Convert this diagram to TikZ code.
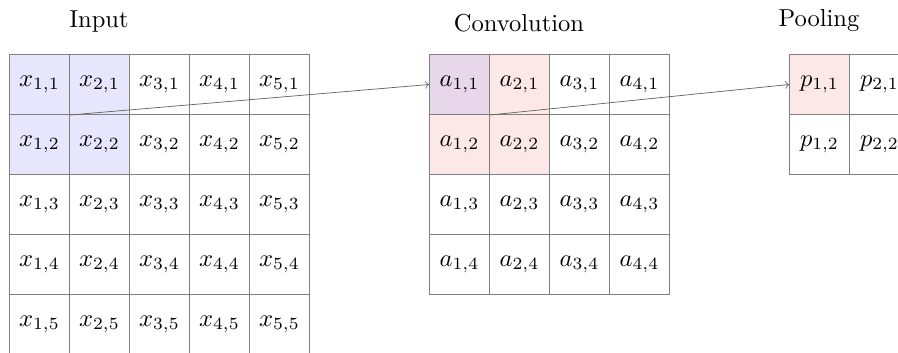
\documentclass[tikz,border=0pt]{standalone}
\usepackage{amsmath}
\usepackage{tikz}
\usetikzlibrary{backgrounds}
\definecolor{inFill}{RGB}{230,230,252}
\definecolor{cvFill}{RGB}{253,232,232}
\definecolor{mixFill}{RGB}{232,214,234}

\begin{document}
\begin{tikzpicture}[x=0.86cm, y=0.86cm,
  cell/.style={draw=gray, minimum size=0.86cm, inner sep=0pt, anchor=north west},
  ttl/.style={font=\normalsize, anchor=south},
  arr/.style={->, draw=black!60, line width=0.3pt},
]
  \useasboundingbox (-0.15,0.9) rectangle (14.817,-4.967);
  \foreach \i in {1,...,5}
    \foreach \j in {1,...,5}
      \node[cell] (x\i\j) at ({\i-1},{1-\j}) {$x_{\i,\j}$};
  \foreach \i in {1,...,4}
    \foreach \j in {1,...,4}
      \node[cell] (a\i\j) at ({\i+6},{1-\j}) {$a_{\i,\j}$};
  \foreach \i in {1,2}
    \foreach \j in {1,2}
      \node[cell] (p\i\j) at ({\i+12},{1-\j}) {$p_{\i,\j}$};

  \begin{scope}[on background layer]
    \fill[inFill] (x11.north west) rectangle (x22.south east);
    \fill[cvFill] (a11.north west) rectangle (a22.south east);
    \fill[mixFill] (a11.north west) rectangle (a11.south east);
    \fill[cvFill] (p11.north west) rectangle (p11.south east);
  \end{scope}

  \node[ttl] (inTitle) at (1.5,0.225) {Input};
  \node[ttl] (cvTitle) at (8.5,0.225) {Convolution};
  \node[ttl] (plTitle) at (13.5,0.225) {Pooling};

  \draw[arr] (x11.south east) -- (a11.west);
  \draw[arr] (a11.south east) -- (p11.west);
\end{tikzpicture}
\end{document}
